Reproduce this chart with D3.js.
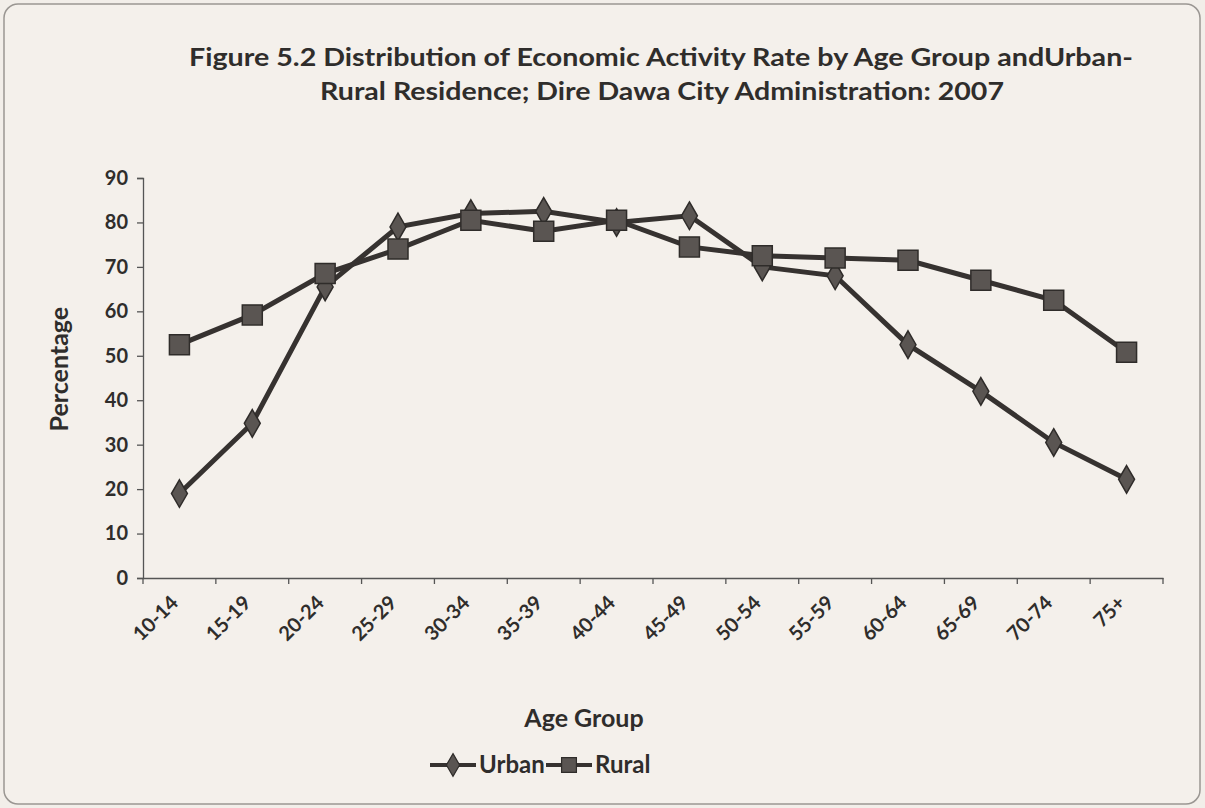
<!DOCTYPE html>
<html>
<head>
<meta charset="utf-8">
<script src="https://cdn.jsdelivr.net/npm/d3@7"></script>
<style>
  body { margin: 0; background: #f2eee9; }
  svg { display: block; }
</style>
</head>
<body>
<svg id="chart"></svg>
<script>
const ageGroups = ['10-14', '15-19', '20-24', '25-29', '30-34', '35-39', '40-44',
  '45-49', '50-54', '55-59', '60-64', '65-69', '70-74', '75+'];
const urbanRates = [19, 34.8, 65.5, 79, 82, 82.5, 80, 81.5, 70, 68, 52.5, 42, 30.5, 22.2];
const ruralRates = [52.5, 59.2, 68.5, 74, 80.5, 78, 80.5, 74.5, 72.5, 72, 71.5, 67, 62.5, 50.8];
const yTicks = [0, 10, 20, 30, 40, 50, 60, 70, 80, 90];

const width = 1205;
const height = 808;
const font = "Lato, 'Open Sans', sans-serif";
const ink = '#2f2d2b';

const chart = d3.select('#chart')
  .attr('width', width)
  .attr('height', height)
  .style('font-family', font);

// page frame
chart.append('rect')
  .attr('x', 4).attr('y', 4)
  .attr('width', width - 9).attr('height', height - 8)
  .attr('rx', 14)
  .attr('fill', '#f4f0eb')
  .attr('stroke', '#9a9692')
  .attr('stroke-width', 1.5);

const xScale = d3.scaleBand()
  .domain(ageGroups)
  .range([143, 1163]);

const yScale = d3.scaleLinear()
  .domain([0, 90])
  .range([578, 178]);

const cx = d => xScale(d) + xScale.bandwidth() / 2;

/* Title */
const title = chart.append('text')
  .attr('text-anchor', 'middle')
  .attr('font-weight', 'bold')
  .attr('font-size', 24)
  .attr('fill', ink);
title.append('tspan').attr('x', 661).attr('y', 66)
  .attr('textLength', 944).attr('lengthAdjust', 'spacingAndGlyphs')
  .text('Figure 5.2 Distribution of Economic Activity Rate by Age Group andUrban-');
title.append('tspan').attr('x', 662).attr('y', 100)
  .attr('textLength', 684).attr('lengthAdjust', 'spacingAndGlyphs')
  .text('Rural Residence; Dire Dawa City Administration: 2007');

/* Left Axis */
const leftAxis = d3.axisLeft(yScale).tickValues(yTicks).tickSize(6).tickPadding(9);
const gy = chart.append('g')
  .attr('transform', `translate(${xScale.range()[0]}, 0)`)
  .call(leftAxis);
gy.select('.domain').attr('stroke', '#555').attr('stroke-width', 1.3);
gy.selectAll('.tick line').attr('stroke', '#555').attr('stroke-width', 1.3);
gy.selectAll('.tick text')
  .attr('font-size', 20)
  .attr('font-family', font)
  .attr('font-weight', 'bold')
  .attr('fill', ink);

/* Bottom Axis */
const botAxis = d3.axisBottom(xScale).tickSize(0).tickPadding(0);
const gx = chart.append('g')
  .attr('transform', `translate(0, ${yScale(0)})`)
  .call(botAxis);
gx.select('.domain').attr('stroke', '#555').attr('stroke-width', 1.3);
gx.selectAll('.tick text')
  .attr('font-size', 20)
  .attr('font-family', font)
  .attr('font-weight', 'bold')
  .attr('fill', ink)
  .attr('text-anchor', 'end')
  .attr('dy', 0)
  .attr('transform', 'translate(0, 26) rotate(-45)');

// tick marks between categories
chart.append('g')
  .selectAll('line')
  .data(ageGroups.concat(['end']))
  .enter()
  .append('line')
  .attr('x1', (d, i) => xScale.range()[0] + i * xScale.step())
  .attr('x2', (d, i) => xScale.range()[0] + i * xScale.step())
  .attr('y1', yScale(0))
  .attr('y2', yScale(0) + 6)
  .attr('stroke', '#555')
  .attr('stroke-width', 1.3);

/* Axis titles */
chart.append('text')
  .attr('transform', `translate(68, ${yScale(47)}) rotate(-90)`)
  .attr('text-anchor', 'middle')
  .attr('font-size', 25)
  .attr('font-weight', 'bold')
  .attr('fill', ink)
  .text('Percentage');

chart.append('text')
  .attr('x', 584).attr('y', 727)
  .attr('text-anchor', 'middle')
  .attr('font-size', 25)
  .attr('font-weight', 'bold')
  .attr('fill', ink)
  .text('Age Group');

/* Lines */
const line = d3.line()
  .x((d, i) => cx(ageGroups[i]))
  .y(d => yScale(d));

const series = [
  { name: 'Urban', values: urbanRates, symbol: d3.symbolDiamond, size: 220 },
  { name: 'Rural', values: ruralRates, symbol: d3.symbolSquare, size: 400 },
];

series.forEach(s => {
  chart.append('path')
    .datum(s.values)
    .attr('d', line)
    .attr('fill', 'none')
    .attr('stroke', '#363230')
    .attr('stroke-width', 5);
});

series.forEach(s => {
  chart.append('g')
    .selectAll('path')
    .data(s.values)
    .enter()
    .append('path')
    .attr('d', d3.symbol().type(s.symbol).size(s.size))
    .attr('transform', (d, i) => `translate(${cx(ageGroups[i])}, ${yScale(d)})`)
    .attr('fill', '#5a5552')
    .attr('stroke', '#2f2c2a')
    .attr('stroke-width', 1.5);
});

/* Legend */
const legend = chart.append('g').attr('transform', 'translate(430, 773)');
const legendItems = [
  { name: 'Urban', x: 0, symbol: d3.symbolDiamond, size: 150 },
  { name: 'Rural', x: 116, symbol: d3.symbolSquare, size: 220 },
];
legendItems.forEach(item => {
  const g = legend.append('g').attr('transform', `translate(${item.x}, 0)`);
  g.append('line')
    .attr('x1', 0).attr('x2', 46)
    .attr('y1', -8).attr('y2', -8)
    .attr('stroke', '#363230')
    .attr('stroke-width', 4);
  g.append('path')
    .attr('d', d3.symbol().type(item.symbol).size(item.size))
    .attr('transform', 'translate(23, -8)')
    .attr('fill', '#5a5552')
    .attr('stroke', '#2f2c2a')
    .attr('stroke-width', 1.2);
  g.append('text')
    .attr('x', 49).attr('y', 0)
    .attr('font-size', 24)
    .attr('font-weight', 'bold')
    .attr('fill', ink)
    .text(item.name);
});
</script>
</body>
</html>
